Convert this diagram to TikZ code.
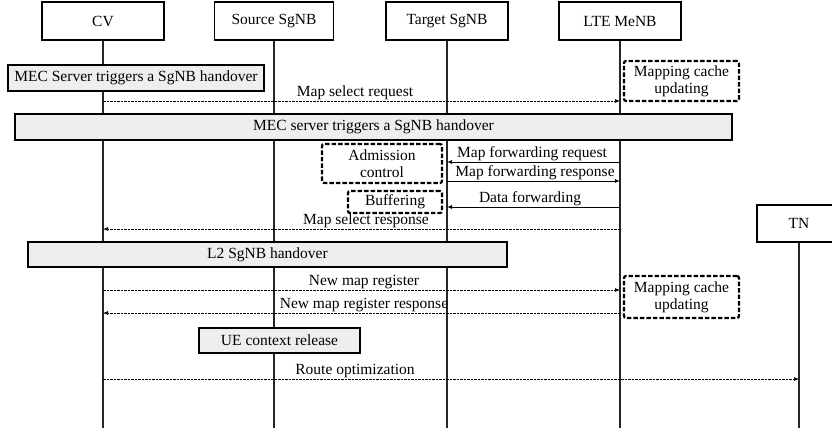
\documentclass[tikz,border=0pt]{standalone}
\usepackage{fontspec}
\setmainfont{Liberation Serif}
\usetikzlibrary{arrows.meta}

\begin{document}
\begin{tikzpicture}[x=1pt, y=-1pt,
    font=\fontsize{15.5}{17}\selectfont,
    head/.style={draw, line width=1.4pt, minimum height=38pt, inner sep=0pt},
    life/.style={line width=1.2pt, black!85},
    phase/.style={draw, line width=1.6pt, fill=gray!13, minimum height=26pt, inner sep=0pt},
    local/.style={draw, line width=2.2pt, dash pattern=on 4.5pt off 2pt, rounded corners=2pt,
        align=center, inner sep=0pt, minimum width=115pt},
    lbl/.style={anchor=south, inner sep=1pt},
    msg/.style={line width=0.7pt, dash pattern=on 2.5pt off 1pt, -{Latex[length=5pt,width=4pt]}},
    fwd/.style={line width=0.9pt, -{Latex[length=5pt,width=4pt]}}]
    \useasboundingbox (0,0) rectangle (832,432);

    % Heads of the five lifelines
    \node[head, minimum width=122pt] (cv) at (103,21) {CV};
    \node[head, minimum width=119pt] (src) at (274,21) {Source SgNB};
    \node[head, minimum width=122pt] (tgt) at (447,21) {Target SgNB};
    \node[head, minimum width=122pt] (lte) at (620,21) {LTE MeNB};
    \node[head, minimum width=84pt, minimum height=37pt] (tn) at (799,223.5) {TN};
    \coordinate (bottom) at (0,428);

    % Lifelines
    \draw[life] (cv) -- (cv |- bottom);
    \draw[life] (src) -- (src |- bottom);
    \draw[life] (tgt) -- (tgt |- bottom);
    \draw[life] (lte) -- (lte |- bottom);
    \draw[life] (tn) -- (tn |- bottom);

    % Grey phase boxes across the lifelines
    \node[phase, minimum width=256pt] (p_1) at (136,78) {MEC Server triggers a SgNB handover};
    \node[phase, minimum width=717pt] (p_2) at (373.5,127) {MEC server triggers a SgNB handover};
    \node[phase, minimum width=479pt, minimum height=25pt] (p_3) at (267.5,254.5) {L2 SgNB handover};
    \node[phase, minimum width=161pt, minimum height=25pt] (p_4) at (279.5,340.5) {UE context release};

    % Local steps in dashed boxes
    \node[local, minimum height=40pt] (u_1) at (681.5,81) {Mapping cache\\updating};
    \node[local, minimum width=120pt, minimum height=39pt] (ac) at (382,163.5) {Admission\\control};
    \node[local, minimum width=94pt, minimum height=22pt] (buf) at (395,202) {Buffering};
    \node[local, minimum height=42pt] (u_2) at (681.5,297) {Mapping cache\\updating};

    % Messages
    \node[lbl] (m_1) at (355,101) {Map select request};
    \draw[msg] (cv |- m_1.south) -- (lte |- m_1.south);

    \node[lbl] (m_2) at (532,162) {Map forwarding request};
    \draw[fwd] (lte |- m_2.south) -- (tgt |- m_2.south);

    \node[lbl] (m_3) at (535,181) {Map forwarding response};
    \draw[fwd] (tgt |- m_3.south) -- (lte |- m_3.south);

    \node[lbl] (m_4) at (530,207) {Data forwarding};
    \draw[fwd] (lte |- m_4.south) -- (tgt |- m_4.south);

    \node[lbl] (m_5) at (366,229) {Map select response};
    \draw[msg] (lte |- m_5.south) -- (cv |- m_5.south);

    \node[lbl] (m_6) at (364,290) {New map register};
    \draw[msg] (cv |- m_6.south) -- (lte |- m_6.south);

    \node[lbl] (m_7) at (364,313) {New map register response};
    \draw[msg] (lte |- m_7.south) -- (cv |- m_7.south);

    \node[lbl] (m_8) at (355,379) {Route optimization};
    \draw[msg] (cv |- m_8.south) -- (tn |- m_8.south);

\end{tikzpicture}
\end{document}
